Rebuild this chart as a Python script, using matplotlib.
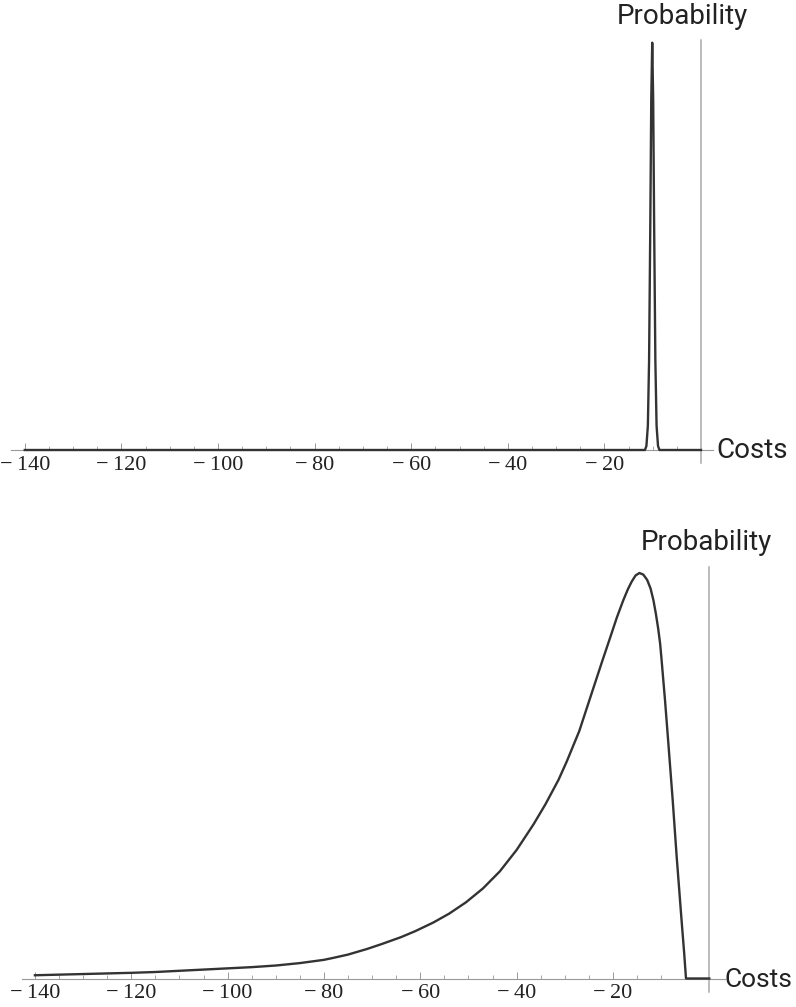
import matplotlib
matplotlib.use("Agg")
import matplotlib.pyplot as plt
from matplotlib.ticker import FixedLocator

# top panel: narrow spike (peak = 1)
spike_x = [-140, -11.6, -11.3, -11.0, -10.75, -10.5, -10.3, -10.1, -9.9, -9.7, -9.45, -9.2, -8.9, -8.6, 0]
spike_y = [0, 0, 0.01, 0.06, 0.22, 0.55, 0.86, 1.0, 0.86, 0.55, 0.22, 0.06, 0.01, 0, 0]

# bottom panel: wide skewed distribution
wide_x = [-140, -135, -130, -125, -120, -115, -110, -105, -100, -95, -90, -85, -80, -78, -75,
          -71, -68, -64, -61, -57.3, -54, -50.5, -47, -43.5, -40, -36.5, -34, -31.3, -29.6,
          -27, -24.1, -22.3, -20.6, -19.2, -17.85, -16.9, -16.1, -15.3, -14.5, -13.7, -12.9,
          -12.2, -11.6, -11.1, -10.6, -10.2, -9.9, -9.2, -8.5, -7.6, -6.77, -5.8, -5.2, -4.84, 0]
wide_y = [0.008, 0.0095, 0.011, 0.0125, 0.014, 0.016, 0.019, 0.022, 0.025, 0.028, 0.032, 0.038,
          0.046, 0.051, 0.059, 0.073, 0.085, 0.102, 0.117, 0.138, 0.16, 0.188, 0.222, 0.264,
          0.317, 0.38, 0.43, 0.49, 0.535, 0.61, 0.715, 0.78, 0.84, 0.89, 0.933, 0.96, 0.979,
          0.994, 1.0, 0.996, 0.983, 0.962, 0.933, 0.9, 0.862, 0.825, 0.785, 0.687, 0.58, 0.44,
          0.30, 0.15, 0.06, 0, 0]

tick_vals = [-140, -120, -100, -80, -60, -40, -20]
tick_labels = ["\u2212\u2009140", "\u2212\u2009120", "\u2212\u2009100", "\u2212\u200980",
               "\u2212\u200960", "\u2212\u200940", "\u2212\u200920"]
minor_vals = list(range(-140, 0, 5))

W, H = 796, 1007
fig = plt.figure(figsize=(W / 100, H / 100), dpi=100)

line_col = "#333333"
axis_col = "#999999"


def make_panel(x0px, ppu, axis_ypx, peak_ypx, ytop, ybot, xs, ys, xleft, xright, prob_xy, costs_xy, costs_size):
    # map pixel layout onto an axes box
    xlim = (-145, 4)
    left_px = x0px + xlim[0] * ppu
    right_px = x0px + xlim[1] * ppu
    unit = axis_ypx - peak_ypx
    top_px = axis_ypx - ytop * unit
    bot_px = axis_ypx - ybot * unit
    ax = fig.add_axes([left_px / W, (H - bot_px) / H, (right_px - left_px) / W, (bot_px - top_px) / H])
    ax.set_xlim(xlim)
    ax.set_ylim(ybot, ytop)
    ax.plot(xs, ys, color=line_col, lw=1.7, solid_joinstyle="round", zorder=3)

    for s in ["top", "right"]:
        ax.spines[s].set_visible(False)
    ax.spines["bottom"].set_position(("data", 0))
    ax.spines["bottom"].set_bounds(xleft, xright)
    ax.spines["bottom"].set_color(axis_col)
    ax.spines["bottom"].set_linewidth(0.8)
    ax.spines["left"].set_position(("data", 0))
    ax.spines["left"].set_color("#aaaaaa")
    ax.spines["left"].set_linewidth(1.1)
    ax.set_yticks([])

    ax.set_xticks(tick_vals)
    ax.set_xticklabels(tick_labels, fontfamily="Liberation Serif", fontsize=16, color="#222222")
    ax.xaxis.set_minor_locator(FixedLocator(minor_vals))
    ax.tick_params(axis="x", which="major", direction="in", length=5, width=0.7, color=axis_col, pad=4)
    ax.tick_params(axis="x", which="minor", direction="in", length=3, width=0.6, color=axis_col)
    ax.patch.set_visible(False)

    fig.text(prob_xy[0] / W, 1 - prob_xy[1] / H, "Probability", ha="center", va="center",
             fontfamily="Roboto", fontsize=20, color="#222222")
    fig.text(costs_xy[0] / W, 1 - costs_xy[1] / H, "Costs", ha="left", va="center",
             fontfamily="Roboto", fontsize=costs_size, color="#222222")
    return ax


make_panel(701, 4.83, 450, 42.7, 1.007, -0.032, spike_x, spike_y, -142.8, 2.5, (682, 17), (716, 450), 20)
make_panel(709.3, 4.817, 978.5, 573, 1.0155, -0.0326, wide_x, wide_y, -142.7, 3.3, (706, 543), (725, 980), 19)

fig.savefig("out.png", dpi=100, facecolor="white")
